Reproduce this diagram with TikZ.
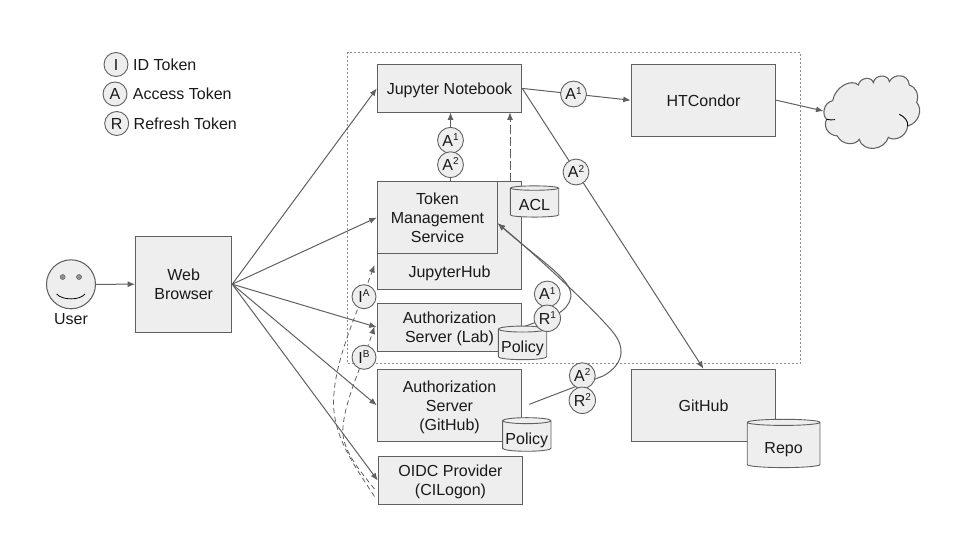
\documentclass[tikz,border=0pt]{standalone}
\usepackage{fontspec}
\setmainfont{Liberation Sans}
\usetikzlibrary{arrows.meta,shapes.geometric,calc}
\definecolor{stroke}{HTML}{606060}
\definecolor{panel}{HTML}{EEEEEE}
\newcommand{\tokensup}[1]{\raisebox{5.7pt}{\fontsize{10}{10}\selectfont #1}}
\tikzset{
  labeltext/.style={font=\fontsize{16}{19}\selectfont,align=center,inner sep=0pt,text=black!90,
    execute at begin node={\rule{0pt}{16pt}},execute at end node={\rule[-4.2pt]{0pt}{4.2pt}}},
  multi/.style={execute at begin node={\rule{0pt}{20pt}}},
  boxtext/.style={label={[labeltext,yshift=-2pt]center:{#1}}},
  panelbox/.style={draw=stroke,fill=panel,line width=1.05pt,inner sep=0pt,labeltext},
  tok/.style={circle,draw=stroke,fill=panel,line width=0.9pt,minimum size=24pt,inner sep=0pt,labeltext},
  can/.style={cylinder,shape border rotate=90,aspect=0.14,draw=stroke,fill=panel,line width=0.9pt,inner sep=0pt,labeltext,multi},
  link/.style={draw=stroke,line width=1pt},
  arrowlink/.style={link,-{Latex[length=7.5pt,width=6pt]}},
  dashlink/.style={arrowlink,dash pattern=on 5pt off 3.5pt,line width=0.8pt},
  region/.style={draw=black!45,line width=0.8pt,dash pattern=on 2pt off 2pt},
}
\begin{document}
\begin{tikzpicture}[x=1pt,y=-1pt]
\useasboundingbox (0,0) rectangle (960,540);

\node[region,minimum width=452.6pt,minimum height=311pt,inner sep=0pt] (zone) at (574,207.8) {};

\node[panelbox,boxtext={Web\\Browser},minimum width=96pt,minimum height=95.7pt] (web) at (183.7,284.2) {};
\node[panelbox,minimum width=144.4pt,minimum height=48pt] (jn) at (449.5,88.4) {Jupyter Notebook};
\node[panelbox,minimum width=144.4pt,minimum height=107.5pt] (hub) at (449.5,235.4) {};
\node[labeltext] (hublabel) at (449.5,271.5) {JupyterHub};
\node[panelbox,boxtext={Token\\Management\\Service},minimum width=120.4pt,minimum height=71.6pt] (tms) at (437.5,217.5) {};
\node[panelbox,boxtext={Authorization\\Server (Lab)},minimum width=144.4pt,minimum height=47.7pt] (lab) at (449.5,327.2) {};
\node[panelbox,boxtext={Authorization\\Server\\(GitHub)},minimum width=144.4pt,minimum height=72pt] (ghauth) at (449.5,405.3) {};
\node[panelbox,boxtext={OIDC Provider\\(CILogon)},minimum width=144.4pt,minimum height=47.6pt] (oidc) at (450.5,480.5) {};
\node[panelbox,minimum width=144.4pt,minimum height=72pt] (condor) at (703.5,100.2) {HTCondor};
\node[panelbox,minimum width=144.4pt,minimum height=72pt] (github) at (703.5,405.3) {GitHub};

\coordinate (cloudw) at (823.5,111);
\coordinate (tmsup) at (450.5,181.7);
\coordinate (jnbot) at (450.5,112.4);
\coordinate (hubdash) at (510,181.7);
\coordinate (jndash) at (510,112.4);
\coordinate (tmstip) at (497.7,223.3);
\coordinate (gitstart) at (529.3,404.3);
\coordinate (iastart) at (374.5,496.5);
\coordinate (ibstart) at (374.5,489);
\coordinate (iaend) at (374.5,265);
\coordinate (ibend) at (374.5,326.5);

\node[circle,draw=stroke,fill=panel,line width=1.05pt,minimum size=49pt,inner sep=0pt] (user) at (71,284.3) {};
\node[circle,fill=stroke!70,draw=stroke,line width=.5pt,minimum size=5pt,inner sep=0pt] (eyel) at (62.7,277) {};
\node[circle,fill=stroke!70,draw=stroke,line width=.5pt,minimum size=5pt,inner sep=0pt] (eyer) at (79,277) {};
\draw[stroke,line width=.8pt] (56.7,294) .. controls (62,300.5) and (80,300.5) .. (85,294);
\node[labeltext] (userlabel) at (71,318.5) {User};

\draw[arrowlink] (user.east) -- (web.west);
\draw[arrowlink] (web.east) -- (jn.west);
\draw[arrowlink] (web.east) -- (tms.west);
\draw[arrowlink] (web.east) -- (lab.west);
\draw[arrowlink] (web.east) -- (ghauth.west);
\draw[arrowlink] (web.east) -- (oidc.west);
\draw[arrowlink] (jn.east) -- (condor.west);
\draw[arrowlink] (jn.east) -- (github.north);
\draw[arrowlink] (condor.east) -- (cloudw);
\draw[arrowlink] (tmsup) -- (jnbot);
\draw[dashlink,dash pattern=on 9pt off 3pt] (hubdash) -- (jndash);
\draw[arrowlink] (lab.east) -- (547.3,318.3) .. controls (560,315) and (578,302) .. (568,286) .. controls (560,272) and (530,252) .. (tmstip);
\draw[arrowlink] (gitstart) -- (582.3,384) -- (603,376) .. controls (618,368) and (630,352) .. (612,331) .. controls (590,305) and (530,250) .. (tmstip);
\draw[dashlink] (iastart) .. controls (352,462) and (330,432) .. (334,393) .. controls (337,355) and (358,310) .. (iaend);
\draw[dashlink] (ibstart) .. controls (355,465) and (341,447) .. (343,427) .. controls (345,400) and (362,365) .. (ibend);

\node[can,minimum width=48.4pt,minimum height=29pt] (acl) at (534.5,202.8) {ACL};
\node[can,minimum width=48.4pt,minimum height=29pt] (pol1) at (522.5,344.6) {Policy};
\node[can,minimum width=48.4pt,minimum height=29pt] (pol2) at (526.8,436.2) {Policy};
\node[can,aspect=0.16,minimum width=72.7pt,minimum height=48.3pt] (repo) at (783.6,445.2) {Repo};

\node[tok] (legi) at (116,64.5) {I};
\node[tok] (lega) at (115,94) {A};
\node[tok] (legr) at (116.7,123.5) {R};
\node[labeltext,anchor=west] (legit) at (133,64.5) {ID Token};
\node[labeltext,anchor=west] (legat) at (132.7,94) {Access Token};
\node[labeltext,anchor=west] (legrt) at (133.5,124) {Refresh Token};

\node[tok] (up1) at (450.5,140.3) {A\tokensup{1}};
\node[tok] (up2) at (450.5,164.7) {A\tokensup{2}};
\node[tok] (cond1) at (573.5,94) {A\tokensup{1}};
\node[tok] (gh2) at (576,172) {A\tokensup{2}};
\node[tok] (ia) at (364,296.7) {I\tokensup{A}};
\node[tok] (ib) at (364,357.3) {I\tokensup{B}};
\node[tok] (labA) at (547.3,294) {A\tokensup{1}};
\node[tok] (labR) at (547.3,318.3) {R\tokensup{1}};
\node[tok] (gitA) at (582.3,375.7) {A\tokensup{2}};
\node[tok] (gitR) at (582.3,400.3) {R\tokensup{2}};

\begin{scope}[shift={(760,60)},scale=0.33333]
\draw[draw=stroke,fill=panel,line width=1.05pt]
 (200,178) .. controls (185,165) and (190,128) .. (218,122)
 .. controls (225,80) and (275,55) .. (295,75)
 .. controls (300,52) and (335,48) .. (340,68)
 .. controls (345,42) and (385,42) .. (388,65)
 .. controls (400,40) and (445,40) .. (448,75)
 .. controls (468,80) and (478,105) .. (470,127)
 .. controls (490,150) and (475,190) .. (443,198)
 .. controls (440,232) and (400,245) .. (385,232)
 .. controls (375,270) and (310,280) .. (298,238)
 .. controls (285,258) and (245,255) .. (232,228)
 .. controls (200,225) and (190,195) .. (200,178) -- cycle;
\draw[stroke,line width=.9pt] (200,178) .. controls (208,180) and (215,180) .. (225,179);
\draw[stroke,line width=.9pt] (418,163) .. controls (435,170) and (445,185) .. (443,198);
\end{scope}
\end{tikzpicture}
\end{document}
